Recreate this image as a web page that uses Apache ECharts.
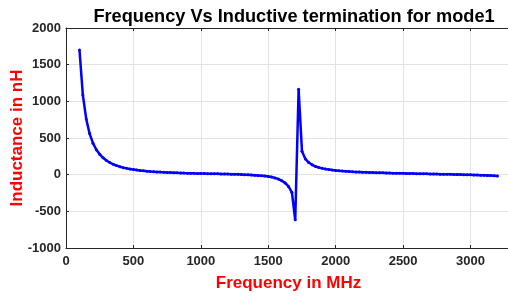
<!DOCTYPE html>
<html><head><meta charset="utf-8">
<script src="https://cdn.jsdelivr.net/npm/echarts@6/dist/echarts.min.js"></script>
<style>html,body{margin:0;padding:0;background:#fff}#c{width:508px;height:296px}</style>
</head><body><div id="c"></div>
<script>
const freqMHz = [100,125,150,175,200,225,250,275,300,325,350,375,400,425,450,475,500,525,550,575,600,625,650,675,700,725,750,775,800,825,850,875,900,925,950,975,1000,1025,1050,1075,1100,1125,1150,1175,1200,1225,1250,1275,1300,1325,1350,1375,1400,1425,1450,1475,1500,1525,1550,1575,1600,1625,1650,1675,1700,1725,1750,1775,1800,1825,1850,1875,1900,1925,1950,1975,2000,2025,2050,2075,2100,2125,2150,2175,2200,2225,2250,2275,2300,2325,2350,2375,2400,2425,2450,2475,2500,2525,2550,2575,2600,2625,2650,2675,2700,2725,2750,2775,2800,2825,2850,2875,2900,2925,2950,2975,3000,3025,3050,3075,3100,3125,3150,3175,3200];
const inductanceNH = [1700,1085,760,560,430,340,278,230,193,165,142,124,109,96,86,77,69,63,57,52,48,44,41,38,35,33,31,29,27,25,24,22,21,20,18,17,16,15,14,13,12,11,10,9,8,7,5,4,2,0,-2,-4,-7,-10,-14,-19,-25,-33,-44,-60,-82,-112,-160,-240,-615,1165,320,215,165,135,113,98,86,77,69,63,58,53,49,46,43,40,38,36,34,32,30,29,27,26,25,23,22,21,20,19,18,17,16,15,14,13,12,11,10,9,8,7,6,5,4,3,2,1,0,-1,-2,-4,-5,-7,-9,-11,-13,-15,-18];
const xTicks = {min:0, max:3300, interval:500};
const yTicks = {min:-1000, max:2000, interval:500};

const chart = echarts.init(document.getElementById('c'), null, {renderer:'canvas'});
const font = 'Liberation Sans, Arial, sans-serif';
const axisCol = '#262626';
const plain = v => String(v);
chart.setOption({
  animation:false,
  title:{text:'Frequency Vs Inductive termination for mode1', left:289, top:3, textAlign:'center',
    textStyle:{fontFamily:font, fontWeight:'bold', fontSize:18.2, color:'#000'}},
  grid:{left:66, top:28, width:445, height:220, outerBoundsMode:'none', containLabel:false},
  xAxis:[{type:'value', min:xTicks.min, max:xTicks.max, interval:xTicks.interval, position:'bottom',
    name:'Frequency in MHz', nameLocation:'middle', nameGap:27, nameMoveOverlap:false,
    nameTextStyle:{fontFamily:font, fontWeight:'bold', fontSize:17, color:'#ff0000'},
    axisLine:{show:true, onZero:false, lineStyle:{color:axisCol, width:1}},
    axisTick:{show:true, inside:true, length:3, lineStyle:{color:axisCol}},
    axisLabel:{fontFamily:font, fontWeight:'bold', fontSize:13, color:axisCol, margin:7, showMaxLabel:false, formatter:plain},
    splitLine:{show:true, lineStyle:{color:'#e3e3e3', width:1}}},
   {type:'value', min:xTicks.min, max:xTicks.max, interval:xTicks.interval, position:'top',
    axisLine:{show:true, onZero:false, lineStyle:{color:axisCol, width:1}},
    axisTick:{show:true, inside:true, length:3, lineStyle:{color:axisCol}},
    axisLabel:{show:false}, splitLine:{show:false}}],
  yAxis:[{type:'value', min:yTicks.min, max:yTicks.max, interval:yTicks.interval, position:'left',
    name:'Inductance in nH', nameLocation:'middle', nameGap:40, nameMoveOverlap:false,
    nameTextStyle:{fontFamily:font, fontWeight:'bold', fontSize:17, color:'#ff0000'},
    axisLine:{show:true, onZero:false, lineStyle:{color:axisCol, width:1}},
    axisTick:{show:true, inside:true, length:3, lineStyle:{color:axisCol}},
    axisLabel:{fontFamily:font, fontWeight:'bold', fontSize:13, color:axisCol, margin:5, formatter:plain},
    splitLine:{show:true, lineStyle:{color:'#e3e3e3', width:1}}}],
  series:[{type:'line', data:freqMHz.map((f,i)=>[f, inductanceNH[i]]),
    symbol:'circle', symbolSize:3, showSymbol:true,
    lineStyle:{color:'#0000ff', width:2.5}, itemStyle:{color:'#0000ff'}}]
});
</script></body></html>
